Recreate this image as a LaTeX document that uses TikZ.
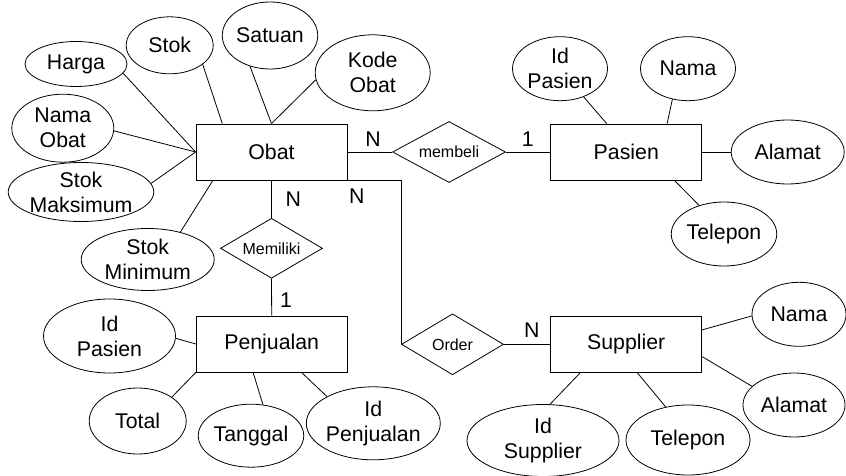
\documentclass[tikz,border=0pt]{standalone}
\usepackage{fontspec}
\setmainfont{Liberation Sans}
\usetikzlibrary{shapes.geometric,calc}
\begin{document}
\begin{tikzpicture}[x=1pt,y=-1pt,line width=0.8pt,
  every node/.style={font=\fontsize{21.3}{25}\selectfont,align=center},
  entity/.style={draw,rectangle,minimum width=151,minimum height=56,inner sep=0},
  attr/.style={draw,ellipse,inner sep=0},
  rel/.style={draw,diamond,inner sep=0,aspect=1.85,font=\fontsize{16}{18}\selectfont},
  card/.style={inner sep=0}]
\useasboundingbox (0,0) rectangle (846,476);

% entities
\node[entity] (obat)      at (271.5,152)   {Obat};
\node[entity] (pasien)    at (626.3,152)   {Pasien};
\node[entity] (penjualan) at (271.7,344)   {Penjualan};
\node[entity] (supplier)  at (626.2,344.3) {Supplier};

% relationships
\node[rel,minimum width=113,minimum height=61] (membeli)  at (449,152)     {membeli};
\node[rel,minimum width=102,minimum height=60] (memiliki) at (271.5,248.3) {Memiliki};
\node[rel,minimum width=102,minimum height=61] (order)    at (452.5,344.3) {Order};

% attributes of Obat
\node[attr,minimum width=102,minimum height=45] (harga)    at (76,64)       {Harga};
\node[attr,minimum width=87,minimum height=57]  (stok)     at (169.7,45.3)  {Stok};
\node[attr,minimum width=95,minimum height=67]  (satuan)   at (270,35.5)    {Satuan};
\node[attr,minimum width=115,minimum height=76] (kode)     at (372.7,72.8)  {Kode\\Obat};
\node[attr,minimum width=102,minimum height=68] (namaobat) at (62.8,128.2)  {Nama\\Obat};
\node[attr,minimum width=132,minimum height=59] (stokmaks) at (81,192)      {Stok\\Maksimum};
\node[attr,minimum width=133,minimum height=62] (stokmin)  at (147.7,259.5) {Stok\\Minimum};

% attributes of Pasien
\node[attr,minimum width=95,minimum height=64]  (idpasien) at (560,68.7)  {Id\\Pasien};
\node[attr,minimum width=95,minimum height=64]  (nama)     at (688,68.7)  {Nama};
\node[attr,minimum width=113,minimum height=64] (alamat)   at (787.7,152) {Alamat};
\node[attr,minimum width=100,minimum height=64] (telepon)  at (724,234)   {Telepon};

% attributes of Penjualan
\node[attr,minimum width=132,minimum height=74] (idpasienb)   at (109.5,336)   {Id\\Pasien};
\node[attr,minimum width=97,minimum height=66]  (total)       at (137.7,421)   {Total};
\node[attr,minimum width=97,minimum height=63]  (tanggal)     at (251,435.7)   {Tanggal};
\node[attr,minimum width=132,minimum height=73] (idpenjualan) at (373.3,423.3) {Id\\Penjualan};

% attributes of Supplier
\node[attr,minimum width=94,minimum height=64]  (namasup)    at (799,314.3) {Nama};
\node[attr,minimum width=102,minimum height=64] (alamatsup)  at (794,405)   {Alamat};
\node[attr,minimum width=152,minimum height=72] (idsupplier) at (543,440.5) {Id\\Supplier};
\node[attr,minimum width=124,minimum height=70] (teleponsup) at (688,440)   {Telepon};

% attribute links: Obat
\draw (harga.-11)    -- (obat.west);
\draw (namaobat.-3)  -- (obat.west);
\draw (stokmaks.7.5) -- (obat.west);
\draw (stok.-30)     -- ($(obat.north west)+(26.7,0)$);
\draw (satuan.-123)  -- (obat.north);
\draw (kode.-173)    -- (obat.north);
\draw (stokmin.40)   -- ($(obat.south west)+(17.3,0)$);

% attribute links: Pasien
\draw (idpasien.-50)  -- ($(pasien.north west)+(56.3,0)$);
\draw (nama.-117.5)   -- ($(pasien.north west)+(116.7,0)$);
\draw (alamat.west)   -- (pasien.east);
\draw (telepon.131.5) -- ($(pasien.south west)+(124,0)$);

% attribute links: Penjualan
\draw (idpasienb.-2)     -- (penjualan.west);
\draw (total.35)         -- (penjualan.south west);
\draw (tanggal.69)       -- ($(penjualan.south west)+(57.3,0)$);
\draw (idpenjualan.150)  -- ($(penjualan.south west)+(105.7,0)$);

% attribute links: Supplier
\draw (namasup.182)     -- ($(supplier.north east)+(0,14)$);
\draw (alamatsup.156)   -- ($(supplier.north east)+(0,40.7)$);
\draw (idsupplier.79)   -- ($(supplier.south west)+(30,0)$);
\draw (teleponsup.124.6) -- ($(supplier.south west)+(87,0)$);

% relationship links
\draw (obat.east) -- (membeli.west);
\draw (membeli.east) -- (pasien.west);
\draw (obat.south) -- (memiliki.north);
\draw (memiliki.south) -- (penjualan.north);
\draw (obat.south east) -| (order.west);
\draw (order.east) -- (supplier.west);

% cardinalities
\node[card] (c1) at (373,139.5)   {N};
\node[card] (c2) at (527.7,139.5) {1};
\node[card] (c3) at (293.3,199)   {N};
\node[card] (c4) at (286,300)     {1};
\node[card] (c5) at (356.7,196)   {N};
\node[card] (c6) at (531.7,330)   {N};
\end{tikzpicture}
\end{document}
